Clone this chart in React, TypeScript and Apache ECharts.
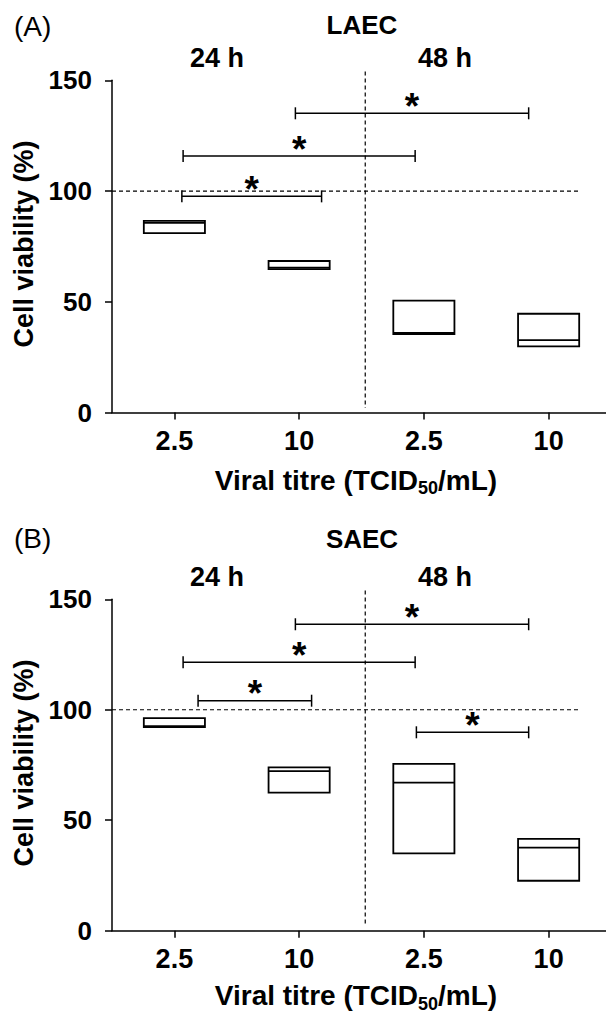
import React, { useEffect, useRef } from "react";
import * as echarts from "echarts";

const FONT = "'Liberation Sans', Arial, Helvetica, sans-serif";

// x categories (viral titre, TCID50/mL) : 24 h then 48 h
const categories = ["2.5", "10", "2.5", "10"];
const timeLabels = ["24 h", "48 h"];
const yTicks = [0, 50, 100, 150];
const refLevel = 100;

// Panel A – LAEC (floating boxes: min / median / max, % viability)
const laecMin = [81.0, 64.7, 35.4, 29.9];
const laecMedian = [85.6, 65.4, 35.9, 32.7];
const laecMax = [86.5, 68.4, 50.5, 44.6];

// Panel B – SAEC
const saecMin = [92.1, 62.5, 35.0, 22.6];
const saecMedian = [92.6, 72.2, 67.0, 37.6];
const saecMax = [96.2, 73.9, 75.5, 41.6];

// significance brackets: [start (category units), end (category units), level %]
const laecBrackets = [
  [0.97, 2.84, 135.1],
  [0.07, 1.93, 115.8],
  [0.06, 1.18, 97.6],
];
const saecBrackets = [
  [0.97, 2.84, 138.7],
  [0.07, 1.93, 121.5],
  [0.19, 1.1, 104.1],
  [1.94, 2.84, 89.8],
];

const GRID_LEFT = 112;
const GRID_WIDTH = 499;

const panels = [
  {
    tag: "(A)",
    title: "LAEC",
    min: laecMin,
    med: laecMedian,
    max: laecMax,
    brackets: laecBrackets,
    top: 80.3,
    height: 332.2,
    tagY: 26,
    titleY: 24.5,
    hoursY: 57.8,
    xNameY: 480,
    yNameY: 244,
  },
  {
    tag: "(B)",
    title: "SAEC",
    min: saecMin,
    med: saecMedian,
    max: saecMax,
    brackets: saecBrackets,
    top: 599.3,
    height: 331.4,
    tagY: 538,
    titleY: 539,
    hoursY: 576.7,
    xNameY: 995.5,
    yNameY: 763,
  },
];

const black = "#000";

function buildOption() {
  const grid: any[] = [];
  const xAxis: any[] = [];
  const yAxis: any[] = [];
  const series: any[] = [];
  const graphic: any[] = [];

  panels.forEach((p, gi) => {
    grid.push({
      left: GRID_LEFT,
      top: p.top,
      width: GRID_WIDTH,
      height: p.height,
      containLabel: false,
      outerBoundsMode: "none",
    });
    xAxis.push({
      type: "category",
      gridIndex: gi,
      data: categories,
      boundaryGap: true,
      axisLine: { show: true, lineStyle: { color: black, width: 1.5 } },
      axisTick: {
        show: true,
        alignWithLabel: true,
        length: 7,
        lineStyle: { color: black, width: 1.5 },
      },
      axisLabel: {
        color: black,
        fontSize: 27,
        fontWeight: "bold",
        fontFamily: FONT,
        margin: 15,
        interval: 0,
      },
      splitLine: { show: false },
    });
    yAxis.push({
      type: "value",
      gridIndex: gi,
      min: yTicks[0],
      max: yTicks[yTicks.length - 1],
      interval: yTicks[1] - yTicks[0],
      axisLine: { show: true, lineStyle: { color: black, width: 1.5 } },
      axisTick: { show: true, length: 7, lineStyle: { color: black, width: 1.5 } },
      axisLabel: {
        color: black,
        fontSize: 26,
        fontWeight: "bold",
        fontFamily: FONT,
        margin: 20,
      },
      splitLine: { show: false },
    });

    // reference dashed lines (100 % and 24h/48h divider)
    series.push({
      type: "custom",
      xAxisIndex: gi,
      yAxisIndex: gi,
      clip: false,
      silent: true,
      z: 1,
      data: [[0, refLevel]],
      renderItem: (params: any, api: any) => {
        const a = api.coord([0, refLevel]);
        const b = api.coord([1, refLevel]);
        const step = b[0] - a[0];
        const last = api.coord([categories.length - 1, refLevel]);
        const divX = a[0] + 1.53 * step;
        const top = api.coord([0, 154])[1];
        const bottom = api.coord([0, 2])[1];
        return {
          type: "group",
          children: [
            {
              type: "line",
              shape: { x1: a[0] - step / 2, y1: a[1], x2: last[0] + step * 0.25, y2: a[1] },
              style: { stroke: black, lineWidth: 1.2, lineDash: [4, 3] },
            },
            {
              type: "line",
              shape: { x1: divX, y1: top, x2: divX, y2: bottom },
              style: { stroke: black, lineWidth: 1.2, lineDash: [4, 3] },
            },
          ],
        };
      },
    });

    // floating boxes
    series.push({
      type: "custom",
      xAxisIndex: gi,
      yAxisIndex: gi,
      clip: false,
      z: 3,
      data: categories.map((c, i) => [i, p.min[i], p.med[i], p.max[i]]),
      renderItem: (params: any, api: any) => {
        const i = api.value(0);
        const lo = api.coord([i, api.value(1)]);
        const med = api.coord([i, api.value(2)]);
        const hi = api.coord([i, api.value(3)]);
        const w = api.size([1, 0])[0] * 0.49;
        const x0 = lo[0] - w / 2;
        return {
          type: "group",
          children: [
            {
              type: "rect",
              shape: { x: x0, y: hi[1], width: w, height: lo[1] - hi[1] },
              style: { fill: "#fff", stroke: black, lineWidth: 1.8 },
            },
            {
              type: "line",
              shape: { x1: x0, y1: med[1], x2: x0 + w, y2: med[1] },
              style: { stroke: black, lineWidth: 1.8 },
            },
          ],
        };
      },
    });

    // significance brackets
    const br = p.brackets;
    series.push({
      type: "custom",
      xAxisIndex: gi,
      yAxisIndex: gi,
      clip: false,
      z: 4,
      data: br.map((b) => [0, b[2]]),
      renderItem: (params: any, api: any) => {
        const b = br[params.dataIndex];
        const p0 = api.coord([0, b[2]]);
        const p1 = api.coord([1, b[2]]);
        const step = p1[0] - p0[0];
        const xs = p0[0] + b[0] * step;
        const xe = p0[0] + b[1] * step;
        const y = p0[1];
        const st = { stroke: black, lineWidth: 1.5 };
        return {
          type: "group",
          children: [
            { type: "line", shape: { x1: xs, y1: y, x2: xe, y2: y }, style: st },
            { type: "line", shape: { x1: xs, y1: y - 6, x2: xs, y2: y + 6 }, style: st },
            { type: "line", shape: { x1: xe, y1: y - 6, x2: xe, y2: y + 6 }, style: st },
            {
              type: "text",
              x: (xs + xe) / 2,
              y: y - 7,
              style: {
                text: "*",
                fill: black,
                fontSize: 37,
                fontWeight: "bold",
                fontFamily: FONT,
                align: "center",
                verticalAlign: "middle",
              },
            },
          ],
        };
      },
    });

    const boldText = (text: string, x: number, y: number, size: number) => ({
      type: "text",
      x,
      y,
      style: {
        text,
        fill: black,
        fontSize: size,
        fontWeight: "bold",
        fontFamily: FONT,
        align: "center",
        verticalAlign: "middle",
      },
    });

    // texts
    graphic.push(
      {
        type: "text",
        x: 14,
        y: p.tagY,
        style: {
          text: p.tag,
          fill: black,
          fontSize: 28,
          fontFamily: FONT,
          align: "left",
          verticalAlign: "middle",
        },
      },
      boldText(p.title, 362, p.titleY, 26),
      boldText(timeLabels[0], 217, p.hoursY, 27),
      boldText(timeLabels[1], 445, p.hoursY, 27),
      {
        type: "text",
        x: 356,
        y: p.xNameY,
        style: {
          text: "Viral titre (TCID{sub|50}/mL)",
          fill: black,
          fontSize: 28,
          fontWeight: "bold",
          fontFamily: FONT,
          align: "center",
          verticalAlign: "middle",
          lineHeight: 28,
          rich: {
            sub: {
              fontSize: 18,
              fontWeight: "bold",
              fontFamily: FONT,
              fill: black,
              lineHeight: 8,
              height: 12,
              verticalAlign: "bottom",
            },
          },
        },
      },
      {
        type: "text",
        x: 24,
        y: p.yNameY,
        rotation: Math.PI / 2,
        style: {
          text: "Cell viability (%)",
          fill: black,
          fontSize: 27,
          fontWeight: "bold",
          fontFamily: FONT,
          align: "center",
          verticalAlign: "middle",
        },
      }
    );
  });

  return {
    animation: false,
    backgroundColor: "#fff",
    grid,
    xAxis,
    yAxis,
    series,
    graphic,
  };
}

export default function App() {
  const ref = useRef<HTMLDivElement>(null);
  useEffect(() => {
    if (!ref.current) return;
    const chart = echarts.init(ref.current, undefined, { renderer: "svg" });
    chart.setOption(buildOption() as any);
    return () => chart.dispose();
  }, []);
  return (
    <div
      ref={ref}
      style={{ position: "fixed", left: 0, top: 0, width: 606, height: 1012 }}
    />
  );
}
